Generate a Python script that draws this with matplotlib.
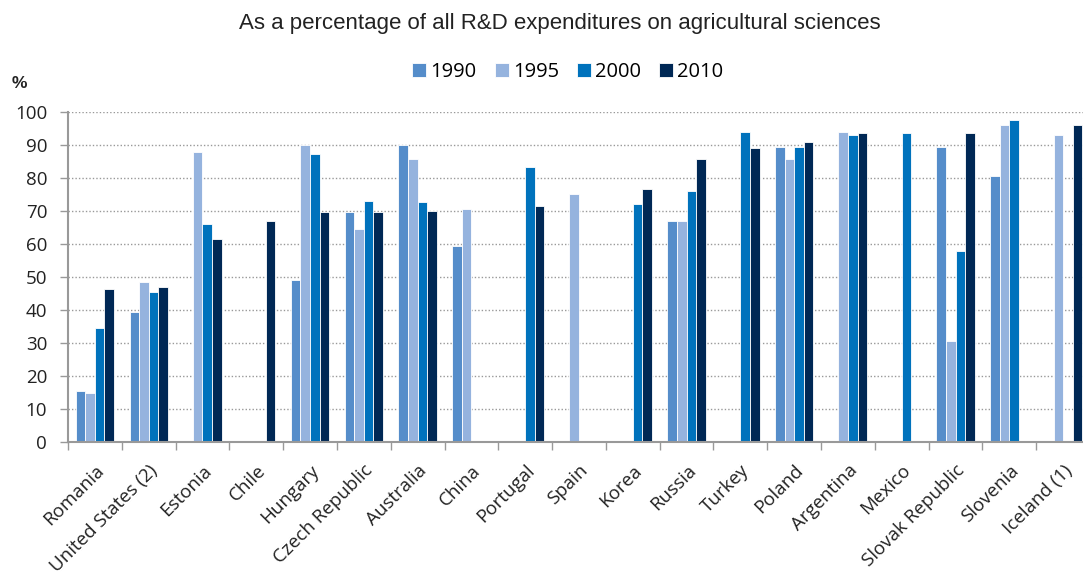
import matplotlib
matplotlib.use("Agg")
import matplotlib.pyplot as plt
import matplotlib.transforms as mtransforms
import numpy as np

countries = ["Romania", "United States (2)", "Estonia", "Chile", "Hungary", "Czech Republic",
             "Australia", "China", "Portugal", "Spain", "Korea", "Russia", "Turkey", "Poland",
             "Argentina", "Mexico", "Slovak Republic", "Slovenia", "Iceland (1)"]
nan = np.nan
v1990 = [15.4, 39.3, nan, nan, 49.0, 69.6, 90.0, 59.4, nan, nan, nan, 66.9, nan, 89.5, nan, nan, 89.5, 80.7, nan]
v1995 = [14.9, 48.6, 87.9, nan, 90.0, 64.4, 85.8, 70.6, nan, 75.2, nan, 66.9, nan, 85.8, 94.0, nan, 30.6, 96.1, 93.0]
v2000 = [34.4, 45.6, 66.0, nan, 87.4, 73.1, 72.6, nan, 83.3, nan, 72.1, 76.1, 94.0, 89.5, 93.0, 93.5, 57.8, 97.6, nan]
v2010 = [46.5, 46.9, 61.4, 66.9, 69.6, 69.6, 70.1, nan, 71.6, nan, 76.6, 85.8, 89.0, 91.0, 93.5, nan, 93.5, nan, 96.1]
years = ["1990", "1995", "2000", "2010"]
colors = ["#558DCA", "#95B3DE", "#0072BC", "#002855"]
yticks = list(range(0, 101, 10))

fig = plt.figure(figsize=(10.83, 5.75), dpi=100)
ax = fig.add_axes([68/1083, 1 - 442/575, 1022/1083, 330/575])

n = len(countries)
x = np.arange(n)
w = 0.178
series = [v1990, v1995, v2000, v2010]
handles = []
for i, (vals, c, yr) in enumerate(zip(series, colors, years)):
    b = ax.bar(x + (i - 1.5) * w, vals, width=w, color=c, edgecolor="white", linewidth=0.6, label=yr, zorder=3)
    handles.append(b)

ax.set_xlim(-0.5, n - 0.5)
ax.set_ylim(0, 100)
ax.set_yticks(yticks)
ax.set_yticklabels([str(t) for t in yticks], fontsize=13.5, color="#222222", family="Open Sans")
for t in yticks[1:]:
    ax.axhline(t, color="#999999", linestyle=(0, (1, 1.5)), linewidth=1.0, zorder=1)

ax.set_xticks(np.arange(n + 1) - 0.5)
ax.set_xticklabels([])
ax.set_xticks(x, minor=True)
labels = ax.set_xticklabels(countries, minor=True, rotation=45, ha="right", rotation_mode="anchor",
                            fontsize=13.5, color="#222222", family="Open Sans")
offset = mtransforms.ScaledTranslation(-6/100, 0, fig.dpi_scale_trans)
for lab in labels:
    lab.set_transform(lab.get_transform() + offset)
ax.tick_params(axis="x", which="major", length=6, color="#999999", width=1)
ax.tick_params(axis="x", which="minor", length=0, pad=14)
ax.tick_params(axis="y", length=6, color="#999999", width=1, pad=9)

for s in ["top", "right"]:
    ax.spines[s].set_visible(False)
for s in ["left", "bottom"]:
    ax.spines[s].set_color("#999999")
    ax.spines[s].set_linewidth(1.5)
    ax.spines[s].set_zorder(4)

fig.text(560/1083, 1 - 24/575, "As a percentage of all R&D expenditures on agricultural sciences",
         ha="center", va="center", fontsize=16, family="Liberation Sans", color="#222222")
fig.text(12/1083, 1 - 83/575, "%", ha="left", va="center", fontsize=12.5, fontweight="bold",
         family="Liberation Sans", color="#222222")

fig.legend(handles=handles, labels=years, loc="center", bbox_to_anchor=(568/1083, 1 - 72/575),
           ncol=4, frameon=False, prop={"family": "Open Sans", "size": 14.5},
           handlelength=0.7, handleheight=0.75, handletextpad=0.2, columnspacing=0.9)

fig.savefig("out.png", dpi=100)
